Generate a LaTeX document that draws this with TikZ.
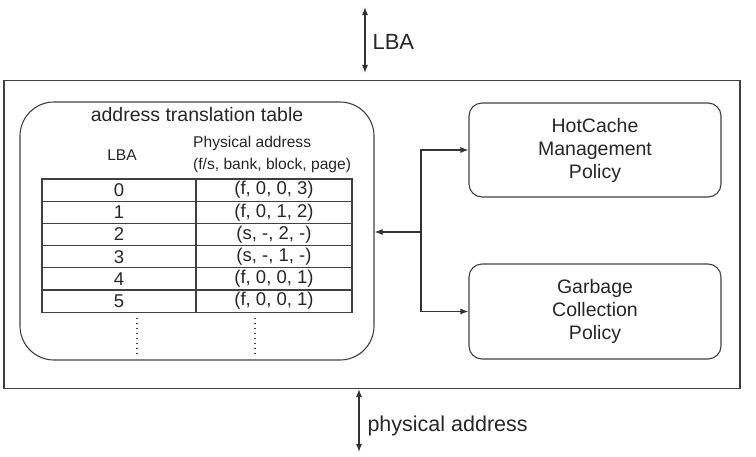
\documentclass[tikz,border=0pt]{standalone}
\usepackage{fontspec}
\setmainfont{Liberation Sans}
\usetikzlibrary{arrows.meta}

\tikzset{
	box/.style={draw=black!75, line width=1.1pt, text=black!85, align=center, inner sep=0pt},
	cell/.style={draw=black!75, line width=1.1pt, text=black!85, minimum height=22.2pt, inner sep=0pt,
		font=\fontsize{18.5}{20}\selectfont},
	dots/.style={draw=black!75, line width=1.4pt, dash pattern=on 1.4pt off 3.6pt},
	arr/.style={draw=black!80, line width=1.1pt, -{Latex[length=8pt,width=6pt]}},
	io/.style={draw=black!80, line width=1.1pt, {Latex[length=8pt,width=6pt]}-{Latex[length=8pt,width=6pt]}}
}

\begin{document}
\begin{tikzpicture}[x=1pt, y=-1pt]
	\useasboundingbox (0,0) rectangle (756,456);

	% controller box
	\node[box, minimum width=736pt, minimum height=308pt] (ftl) at (372,234.5) {};

	% address translation table
	\node[box, rounded corners=34pt, minimum width=354pt, minimum height=258pt] (att) at (197,231) {};
	\node[text=black!85, font=\fontsize{19.5}{23}\selectfont] (atttitle) at (197,115) {address translation table};
	\node[text=black!85, font=\fontsize{15.6}{22}\selectfont] (lbahead) at (122,155) {LBA};
	\node[text=black!85, anchor=west, align=left, inner sep=0pt, font=\fontsize{15.6}{22}\selectfont] (pahead) at (193,154)
		{Physical address\\(f/s, bank, block, page)};

	\foreach \lba/\pa [count=\i from 0] in {0/{(f, 0, 0, 3)}, 1/{(f, 0, 1, 2)}, 2/{(s, -, 2, -)},
			3/{(s, -, 1, -)}, 4/{(f, 0, 0, 1)}, 5/{(f, 0, 0, 1)}}{
		\node[cell, minimum width=154pt] (lba\i) at (119,190.1+22.2*\i) {\lba};
		\node[cell, minimum width=156pt] (pa\i) at (274,190.1+22.2*\i) {\pa};
	}
	\draw[dots] (137,318) -- (137,354);
	\draw[dots] (255,318) -- (255,354);

	% policies
	\node[box, rounded corners=13pt, minimum width=252pt, minimum height=94pt,
		font=\fontsize{19.5}{23}\selectfont] (hot) at (595,150) {HotCache\\Management\\Policy};
	\node[box, rounded corners=13pt, minimum width=252pt, minimum height=95pt,
		font=\fontsize{19.5}{23}\selectfont] (gc) at (595,311.5) {Garbage\\Collection\\Policy};

	\coordinate (br) at (421,232);
	\draw[arr] (br) -- (att.east |- br);
	\draw[arr] (br) |- (hot.west);
	\draw[arr] (br) |- (gc.west);

	% host and flash side
	\coordinate (lbatop) at (365,7);
	\coordinate (physbot) at (359,452);
	\draw[io, shorten >=7pt] (lbatop) -- (lbatop |- ftl.north);
	\node[text=black!85, anchor=west, font=\fontsize{22}{24}\selectfont] (lbalabel) at (369,42) {LBA};
	\draw[io] (physbot |- ftl.south) -- (physbot);
	\node[text=black!85, anchor=west, font=\fontsize{21.5}{24}\selectfont] (physlabel) at (364,426) {physical address};
\end{tikzpicture}
\end{document}
